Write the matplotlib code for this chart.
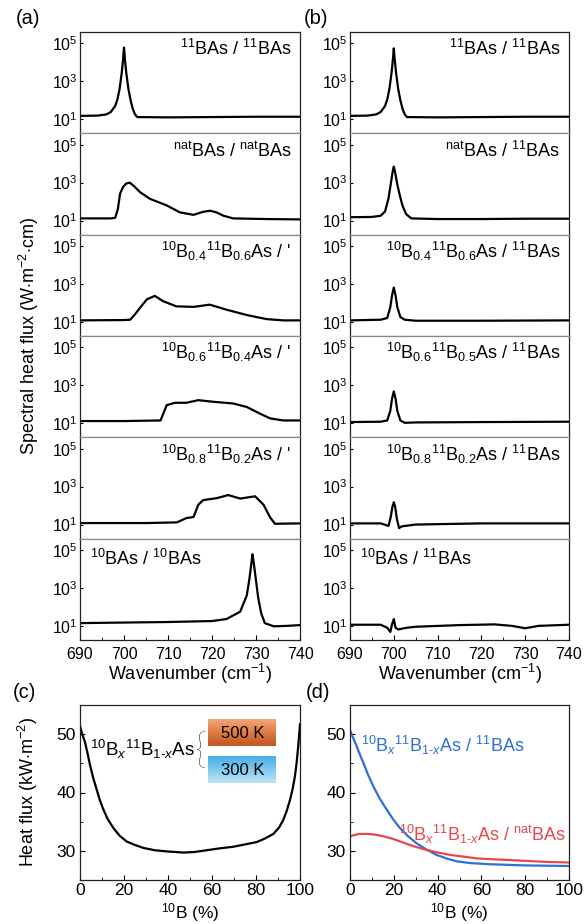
import numpy as np
import matplotlib.pyplot as plt
from matplotlib.colors import LinearSegmentedColormap
from matplotlib.ticker import MultipleLocator, FixedLocator, NullLocator, LogFormatterSciNotation

plt.rcParams['font.family'] = ['Liberation Sans', 'DejaVu Sans']
plt.rcParams['mathtext.fontset'] = 'custom'
plt.rcParams['mathtext.rm'] = 'Liberation Sans'
plt.rcParams['mathtext.it'] = 'Liberation Sans:italic'
plt.rcParams['mathtext.bf'] = 'Liberation Sans:bold'
plt.rcParams['font.size'] = 11

# ---- spectral heat flux, column (a): same material on both sides ----
wn_a1 = [690, 694, 696, 697, 698, 698.5, 699, 699.5, 699.8, 700, 700.2, 700.5, 701, 701.5, 702, 702.5, 703, 710, 720, 730, 740]
flux_a1 = [15, 15.5, 18, 24, 50, 110, 400, 3000, 15000, 60000, 15000, 3000, 400, 100, 35, 18, 13, 12.5, 13, 13.5, 13.5]

wn_a2 = [690, 697, 698, 698.6, 699.1, 699.8, 700.5, 701.3, 702.3, 703.6, 705.9, 709.7, 712.7, 715.8, 718, 719.6, 721, 722.6, 724.8, 732.4, 740]
flux_a2 = [13, 13, 14, 40, 260, 600, 900, 1000, 650, 320, 140, 63, 27, 20, 29, 33, 27, 18, 13, 12, 11.5]

wn_a3 = [690, 700, 701.4, 702.5, 703.6, 705.2, 707.0, 708.9, 711.9, 715.8, 719.5, 723.3, 727.9, 732.4, 736.2, 740]
flux_a3 = [12, 12.5, 13, 25, 54, 155, 235, 123, 66, 62, 81, 44, 23, 14, 12, 12]

wn_a4 = [690, 700, 708.3, 709.7, 711.6, 714.2, 716.9, 720.3, 724.8, 727.9, 730.9, 733.2, 736.2, 740]
flux_a4 = [13, 13, 14, 90, 120, 120, 165, 135, 110, 72, 32, 18, 14, 14]

wn_a5 = [690, 705, 712, 714.2, 715.8, 716.9, 718.0, 721.0, 723.7, 726.4, 729.8, 731.7, 733.2, 734.3, 740]
flux_a5 = [12, 12, 13, 22, 25, 112, 195, 245, 360, 235, 310, 112, 24, 11, 11.5]

wn_a6 = [690, 700, 710, 720, 723.3, 726.4, 727.9, 728.5, 729.0, 729.2, 729.5, 730, 730.5, 731.2, 732, 734, 737, 740]
flux_a6 = [14, 15, 16, 18, 23, 56, 400, 3000, 25000, 60000, 20000, 2500, 300, 45, 14, 9.5, 10, 11]

# ---- column (b): layers against a 11BAs side ----
wn_b1 = [690, 694, 696, 697, 698, 698.5, 699, 699.5, 699.8, 700, 700.2, 700.5, 701, 701.5, 702, 702.5, 703, 710, 720, 730, 740]
flux_b1 = [15, 15.5, 18, 24, 50, 110, 400, 3000, 15000, 55000, 15000, 3000, 400, 100, 35, 18, 13, 12.5, 13, 13.5, 13.5]

wn_b2 = [690, 695, 697, 698, 698.8, 699.4, 699.8, 700, 700.3, 700.8, 701.4, 702, 702.8, 704, 710, 720, 730, 740]
flux_b2 = [15, 15.5, 18, 30, 150, 1200, 4500, 7000, 3500, 800, 200, 60, 22, 13, 12, 12, 12.5, 12.5]

wn_b3 = [690, 697, 698.5, 699.2, 699.6, 700, 700.4, 700.8, 701.5, 702.5, 705, 720, 740]
flux_b3 = [12, 13, 16, 60, 250, 650, 250, 60, 18, 13, 11.5, 11.5, 12]

wn_b4 = [690, 697, 698.5, 699.2, 699.6, 700, 700.4, 700.8, 701.5, 702.5, 705, 720, 740]
flux_b4 = [11.5, 12, 14, 45, 200, 480, 200, 45, 14, 10.5, 11, 11.5, 12]

wn_b5 = [690, 697, 698.8, 699.3, 699.7, 700, 700.3, 700.7, 701.2, 701.8, 705, 720, 740]
flux_b5 = [11.5, 11.5, 8.5, 25, 90, 150, 90, 20, 6.5, 8, 10, 11.5, 11.5]

wn_b6 = [690, 697, 698.5, 699.2, 699.6, 700, 700.4, 701, 703, 705, 715, 723, 727, 730, 733, 740]
flux_b6 = [11.5, 11.5, 8, 4.8, 12, 23, 8, 6.5, 8, 9, 11, 12, 10, 7.5, 10, 11.5]

labels_a = [r'$^{11}$BAs / $^{11}$BAs',
            r'$^{\mathrm{nat}}$BAs / $^{\mathrm{nat}}$BAs',
            r"$^{10}$B$_{0.4}$$^{11}$B$_{0.6}$As / '",
            r"$^{10}$B$_{0.6}$$^{11}$B$_{0.4}$As / '",
            r"$^{10}$B$_{0.8}$$^{11}$B$_{0.2}$As / '",
            r'$^{10}$BAs / $^{10}$BAs']
labels_b = [r'$^{11}$BAs / $^{11}$BAs',
            r'$^{\mathrm{nat}}$BAs / $^{11}$BAs',
            r'$^{10}$B$_{0.4}$$^{11}$B$_{0.6}$As / $^{11}$BAs',
            r'$^{10}$B$_{0.6}$$^{11}$B$_{0.5}$As / $^{11}$BAs',
            r'$^{10}$B$_{0.8}$$^{11}$B$_{0.2}$As / $^{11}$BAs',
            r'$^{10}$BAs / $^{11}$BAs']

# ---- total heat flux vs 10B content ----
pct_c = [0, 1, 2.3, 3.5, 4.5, 6, 7.6, 9, 10.6, 12.5, 15.2, 18, 21.2, 25, 28.8, 34, 39.4, 47, 52, 57.6,
         63, 69.7, 75, 80.3, 84, 87.9, 90.5, 92.4, 94, 95.5, 96.7, 97.7, 98.5, 99.2, 100]
flux_c = [51.4, 50.0, 48.6, 46.6, 44.8, 42.5, 40.5, 38.7, 37.1, 35.5, 33.9, 32.6, 31.6, 31.0, 30.5, 30.1, 29.9, 29.7, 29.8, 30.1,
          30.4, 30.7, 31.1, 31.5, 32.1, 32.9, 34.0, 35.3, 36.9, 38.8, 40.7, 42.8, 45.2, 48.0, 51.7]

pct_d_11 = [0, 1.5, 3, 4.5, 6.1, 8.3, 10.6, 13.5, 16.7, 19.7, 22.8, 26.5, 30.4, 35, 39.5, 44, 48.7, 55, 63.9, 80, 100]
flux_d_11 = [50.7, 49.3, 48.0, 46.5, 45.1, 43.0, 41.1, 39.0, 37.1, 35.4, 33.9, 32.5, 31.3, 30.2, 29.3, 28.7, 28.2, 27.9, 27.7, 27.5, 27.4]
pct_d_nat = [0, 4, 7.6, 11, 15.2, 20, 24.4, 29, 33.5, 39, 45.7, 52, 57.9, 68, 79.2, 90, 100]
flux_d_nat = [32.5, 32.9, 32.9, 32.8, 32.5, 32.0, 31.4, 30.8, 30.3, 29.8, 29.3, 29.0, 28.7, 28.5, 28.3, 28.1, 28.0]

curves_a = [(wn_a1, flux_a1), (wn_a2, flux_a2), (wn_a3, flux_a3),
            (wn_a4, flux_a4), (wn_a5, flux_a5), (wn_a6, flux_a6)]
curves_b = [(wn_b1, flux_b1), (wn_b2, flux_b2), (wn_b3, flux_b3),
            (wn_b4, flux_b4), (wn_b5, flux_b5), (wn_b6, flux_b6)]

W, H = 586, 924
fig = plt.figure(figsize=(W / 100, H / 100), dpi=100)


def px_axes(x0, y0, x1, y1):
    return fig.add_axes([x0 / W, 1 - y1 / H, (x1 - x0) / W, (y1 - y0) / H])


def spectral_stack(x0, x1, curves, labels):
    top, bottom = 32, 640
    h = (bottom - top) / 6
    axes = []
    for i, ((wn, fl), lab) in enumerate(zip(curves, labels)):
        ax = px_axes(x0, top + i * h, x1, top + (i + 1) * h)
        ax.plot(wn, fl, color='black', lw=1.6)
        ax.set_yscale('log')
        ax.set_xlim(690, 740)
        ax.set_ylim(1.8, 4e5)
        ax.yaxis.set_major_locator(FixedLocator([1e1, 1e3, 1e5]))
        ax.yaxis.set_minor_locator(NullLocator())
        ax.yaxis.set_major_formatter(LogFormatterSciNotation())
        ax.xaxis.set_major_locator(MultipleLocator(10))
        ax.xaxis.set_minor_locator(MultipleLocator(5))
        ax.tick_params(axis='both', which='both', direction='in', labelsize=11.5, pad=2)
        ax.tick_params(axis='y', length=2.5)
        ax.tick_params(axis='x', which='major', length=3.5, pad=5)
        ax.tick_params(axis='x', which='minor', length=2)
        for s in ax.spines.values():
            s.set_linewidth(0.9)
            s.set_color('#222222')
        if i > 0:
            ax.spines['top'].set_color('#888888')
        if i < 5:
            ax.spines['bottom'].set_color('#888888')
            ax.tick_params(axis='x', which='both', length=0, labelbottom=False)
            ax.text(0.962, 0.77, lab, transform=ax.transAxes, ha='right', va='baseline', fontsize=13)
        else:
            ax.text(0.045, 0.745, lab, transform=ax.transAxes, ha='left', va='baseline', fontsize=13)
        axes.append(ax)
    axes[-1].set_xlabel('Wavenumber (cm$^{-1}$)', fontsize=13, labelpad=0)
    return axes


axs_a = spectral_stack(80, 300, curves_a, labels_a)
axs_b = spectral_stack(350, 569, curves_b, labels_b)
fig.text(29 / W, 1 - 336 / H, 'Spectral heat flux (W$\\cdot$m$^{-2}$$\\cdot$cm)',
         rotation=90, ha='center', va='center', fontsize=13)

fig.text(16 / W, 1 - 19 / H, '(a)', fontsize=14.5, va='center')
fig.text(304 / W, 1 - 19 / H, '(b)', fontsize=14.5, va='center')
fig.text(13 / W, 1 - 693 / H, '(c)', fontsize=14.5, va='center')
fig.text(306 / W, 1 - 693 / H, '(d)', fontsize=14.5, va='center')

# ---- bottom panels ----
ax_c = px_axes(80, 705, 300, 880)
ax_d = px_axes(350, 705, 569, 880)
for ax in (ax_c, ax_d):
    ax.xaxis.set_major_locator(MultipleLocator(20))
    ax.xaxis.set_minor_locator(MultipleLocator(10))
    ax.yaxis.set_major_locator(MultipleLocator(10))
    ax.yaxis.set_minor_locator(MultipleLocator(5))
    ax.tick_params(axis='both', which='both', direction='in', labelsize=12.5)
    ax.tick_params(axis='x', pad=2)
    ax.tick_params(axis='y', pad=3)
    ax.tick_params(which='major', length=3.5)
    ax.tick_params(which='minor', length=2)
    for s in ax.spines.values():
        s.set_linewidth(0.9)
        s.set_color('#222222')
    ax.set_xlabel('$^{10}$B (%)', fontsize=12.5)
    ax.xaxis.set_label_coords(0.5, -21 / 175)

ax_c.plot(pct_c, flux_c, color='black', lw=1.6)
ax_c.set_ylabel('Heat flux (kW$\\cdot$m$^{-2}$)', fontsize=13)
ax_c.yaxis.set_label_coords(-40 / 220, 0.5)

grad = np.linspace(0, 1, 64).reshape(-1, 1)
warm = LinearSegmentedColormap.from_list('warm', ['#f2a878', '#e07a45', '#c05520'])
cool = LinearSegmentedColormap.from_list('cool', ['#46aee6', '#80c9ee', '#bfe5f7'])
ax_c.imshow(grad, extent=(58.2, 89.1, 48.0, 52.6), cmap=warm, aspect='auto', origin='upper', zorder=3)
ax_c.imshow(grad, extent=(58.2, 89.1, 41.7, 46.2), cmap=cool, aspect='auto', origin='upper', zorder=3)
ax_c.text(73.9, 50.2, '500 K', ha='center', va='center', fontsize=12, zorder=4)
ax_c.text(73.9, 43.8, '300 K', ha='center', va='center', fontsize=12, zorder=4)
ax_c.text(52.3, 47.3, r'$^{10}$B$_{x}$$^{11}$B$_{1\text{-}x}$As', ha='right', va='center', fontsize=13.5)
ax_c.text(54.8, 46.9, '{', ha='center', va='center', fontsize=30, color='black',
          family='Lato', fontweight='light')
ax_c.set_xlim(0, 100)
ax_c.set_ylim(25, 55)

ax_d.plot(pct_d_11, flux_d_11, color='#2f6fd8', lw=1.6)
ax_d.plot(pct_d_nat, flux_d_nat, color='#e8464b', lw=1.6)
ax_d.text(5, 48.0, r'$^{10}$B$_{x}$$^{11}$B$_{1\text{-}x}$As / $^{11}$BAs', color='#2f6fd8',
          ha='left', va='center', fontsize=13)
ax_d.text(98.5, 32.8, r'$^{10}$B$_{x}$$^{11}$B$_{1\text{-}x}$As / $^{\mathrm{nat}}$BAs', color='#e8464b',
          ha='right', va='center', fontsize=13)
ax_d.set_xlim(0, 100)
ax_d.set_ylim(25, 55)

fig.savefig('out.png', dpi=100)
